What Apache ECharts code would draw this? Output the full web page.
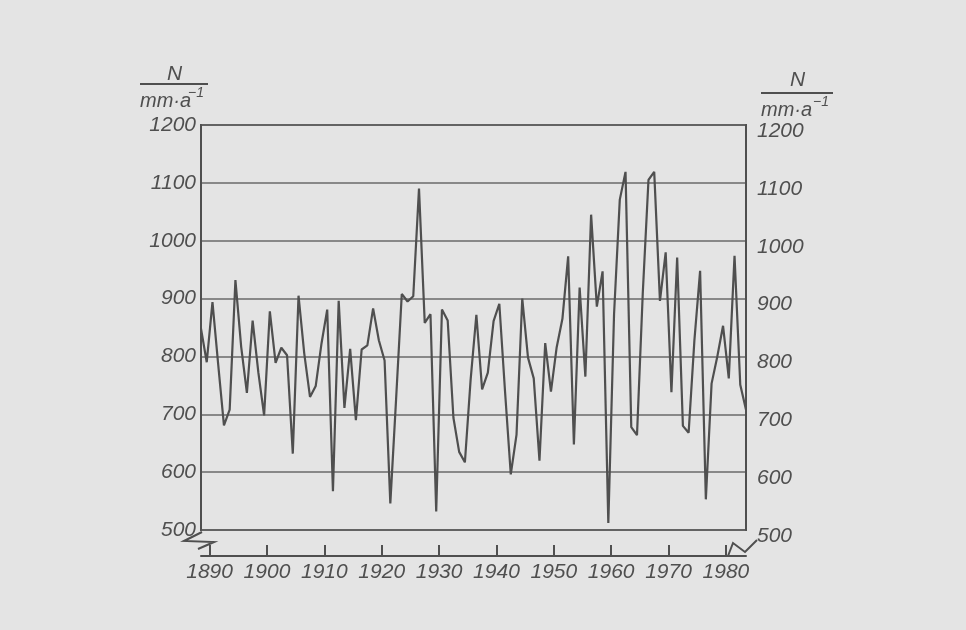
<!DOCTYPE html>
<html>
<head>
<meta charset="utf-8">
<script src="https://cdn.jsdelivr.net/npm/echarts@6/dist/echarts.min.js"></script>
<style>
html,body{margin:0;padding:0;background:#e4e4e4;}
#c{width:966px;height:630px;}
</style>
</head>
<body>
<div id="c"></div>
<script>
const years = [
  1888,1889,1890,1891,1892,1893,1894,1895,1896,1897,
  1898,1899,1900,1901,1902,1903,1904,1905,1906,1907,
  1908,1909,1910,1911,1912,1913,1914,1915,1916,1917,
  1918,1919,1920,1921,1922,1923,1924,1925,1926,1927,
  1928,1929,1930,1931,1932,1933,1934,1935,1936,1937,
  1938,1939,1940,1941,1942,1943,1944,1945,1946,1947,
  1948,1949,1950,1951,1952,1953,1954,1955,1956,1957,
  1958,1959,1960,1961,1962,1963,1964,1965,1966,1967,
  1968,1969,1970,1971,1972,1973,1974,1975,1976,1977,
  1978,1979,1980,1981,1982,1983
];
const precipitation = [
  848, 790, 894, 786, 681, 708, 932, 817, 737, 862,
  772, 698, 878, 789, 815, 802, 632, 905, 805, 730,
  749, 822, 881, 567, 896, 711, 813, 690, 812, 819,
  883, 828, 793, 546, 725, 908, 895, 904, 1090, 858,
  873, 532, 881, 862, 694, 635, 617, 760, 872, 743,
  772, 861, 891, 739, 596, 665, 900, 798, 762, 620,
  823, 739, 816, 865, 973, 648, 919, 765, 1045, 886,
  947, 512, 873, 1071, 1119, 678, 664, 908, 1105, 1119,
  896, 980, 738, 971, 680, 668, 827, 948, 553, 753,
  800, 853, 762, 974, 751, 708
];
const xTickYears = [1890,1900,1910,1920,1930,1940,1950,1960,1970,1980];
const yTicks = [500,600,700,800,900,1000,1100,1200];
const axisTitleTop = 'N';
const axisTitleBottom = 'mm·a';
const axisTitleExp = '−1';

const ink = '#4f4f4f';
const font = 'Liberation Sans';

const chart = echarts.init(document.getElementById('c'), null, {renderer:'canvas'});
const seriesData = years.map((y,i)=>[y, precipitation[i]]);

function titleGroup(cx, yN, yLine, halfW){
  return [
    {type:'text', left: cx-7, top: yN, style:{text: axisTitleTop, font:'italic 21px "'+font+'"', fill: ink}},
    {type:'line', shape:{x1: cx-halfW, y1: yLine, x2: cx+halfW, y2: yLine}, style:{stroke: ink, lineWidth: 2}},
    {type:'text', left: cx-halfW, top: yLine+7, style:{text: axisTitleBottom, font:'italic 20px "'+font+'"', fill: ink}},
    {type:'text', left: cx+halfW-20, top: yLine+2, style:{text: axisTitleExp, font:'italic 14px "'+font+'"', fill: ink}}
  ];
}

const option = {
  backgroundColor: '#e4e4e4',
  animation: false,
  grid: {left: 201, right: 220, top: 125, bottom: 100, show: true, borderColor: ink, borderWidth: 2, backgroundColor: 'transparent'},
  xAxis: [
    {
      type: 'value', min: 1888.5, max: 1983.5, position: 'bottom', offset: 26,
      axisLine: {show: true, onZero: false, lineStyle: {color: ink, width: 2}},
      axisTick: {show: true, inside: true, length: 11, customValues: xTickYears, lineStyle: {color: ink, width: 2}},
      axisLabel: {show: true, customValues: xTickYears, margin: 6, color: ink, fontSize: 21, fontStyle: 'italic', fontFamily: font, formatter: v => String(v)},
      splitLine: {show: false}
    },
    {
      type: 'value', min: 1888, max: 1983, show: false
    }
  ],
  yAxis: [
    {
      type: 'value', min: 500, max: 1200, interval: 100, position: 'left',
      axisLine: {show: true, lineStyle: {color: ink, width: 2}},
      axisTick: {show: false},
      axisLabel: {margin: 5, color: ink, fontSize: 21, fontStyle: 'italic', fontFamily: font, formatter: v => String(v)},
      splitLine: {show: true, lineStyle: {color: '#6a6a6a', width: 1.5}}
    },
    {
      type: 'value', min: 500, max: 1200, interval: 100, position: 'right',
      axisLine: {show: true, lineStyle: {color: ink, width: 2}},
      axisTick: {show: false},
      axisLabel: {margin: 11, color: ink, fontSize: 21, fontStyle: 'italic', fontFamily: font,
        formatter: v => '{a|' + v + '}',
        rich: {a: {color: ink, fontSize: 21, fontStyle: 'italic', fontFamily: font, padding: [12, 0, 0, 0]}}},
      splitLine: {show: false}
    }
  ],
  series: [{
    type: 'line', xAxisIndex: 1, yAxisIndex: 0, data: seriesData,
    showSymbol: false, symbol: 'none',
    lineStyle: {color: ink, width: 2.2}
  }],
  graphic: [
    ...titleGroup(174, 64, 84, 34),
    ...titleGroup(797, 70, 93, 36),
    {type:'polyline', shape:{points:[[202,532],[184,541],[214,542],[198,549]]}, style:{stroke: ink, lineWidth: 2, fill: null}},
    {type:'polyline', shape:{points:[[728,556],[733,543],[745,552],[757,540]]}, style:{stroke: ink, lineWidth: 2, fill: null}}
  ]
};
chart.setOption(option);
</script>
</body>
</html>
